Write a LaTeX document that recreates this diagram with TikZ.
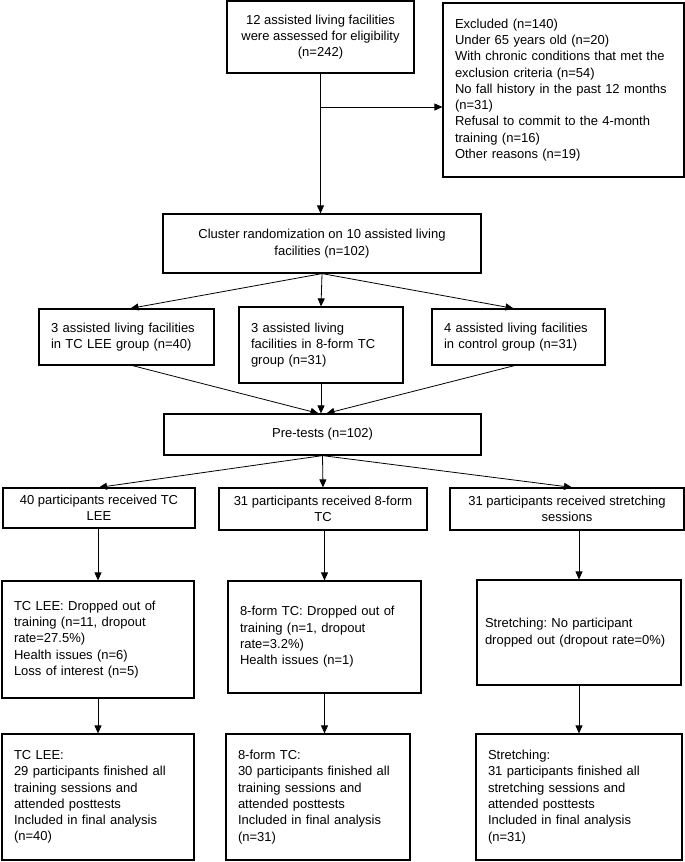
\documentclass[tikz,border=0pt]{standalone}
\usepackage{fontspec}
\setmainfont{Liberation Sans}
\usetikzlibrary{arrows.meta}
\tikzset{
  boxc/.style={draw, line width=1.2pt, align=center, inner sep=0pt,
    font=\fontsize{13pt}{16.3pt}\selectfont\frenchspacing},
  boxl/.style={draw, line width=1.2pt, align=left, inner ysep=0pt, inner xsep=12pt,
    font=\fontsize{13pt}{16.3pt}\selectfont\frenchspacing},
  conn/.style={line width=0.8pt, -{Triangle[length=8pt,width=7pt]}},
  plain/.style={line width=0.8pt}
}
\begin{document}
\begin{tikzpicture}[x=1pt,y=-1pt]
\useasboundingbox (0,0) rectangle (685,862);
% top
\node[boxc, minimum width=187pt, minimum height=72pt] (b1) at (320.5,37)
  {12 assisted living facilities\\were assessed for eligibility\\(n=242)};
\node[boxl, minimum width=241pt, minimum height=174pt, text width=217pt] (ex) at (563.5,90)
  {Excluded (n=140)\\Under 65 years old (n=20)\\With chronic conditions that met the\\exclusion criteria (n=54)\\No fall history in the past 12 months\\(n=31)\\Refusal to commit to the 4-month\\training (n=16)\\Other reasons (n=19)\\[8pt]};
\node[boxc, minimum width=318pt, minimum height=59pt] (cl) at (322,243.5)
  {Cluster randomization on 10 assisted living\\facilities (n=102)};
% groups
\node[boxl, minimum width=175pt, minimum height=56pt, text width=151pt] (ga) at (126.5,337)
  {3 assisted living facilities\\in TC LEE group (n=40)};
\node[boxl, minimum width=164pt, minimum height=76pt, text width=140pt] (gb) at (321,345)
  {3 assisted living\\facilities in 8-form TC\\group (n=31)};
\node[boxl, minimum width=173pt, minimum height=56pt, text width=149pt] (gc) at (518.5,337)
  {4 assisted living facilities\\in control group (n=31)};
\node[boxc, minimum width=317pt, minimum height=41pt] (pre) at (322.5,434.5)
  {Pre-tests (n=102)};
% row 1
\node[boxc, minimum width=192pt, minimum height=40pt] (l1) at (99,508)
  {40 participants received TC\\LEE};
\node[boxc, minimum width=208pt, minimum height=42pt] (m1) at (323,509)
  {31 participants received 8-form\\TC};
\node[boxc, minimum width=234pt, minimum height=42pt] (r1) at (567,509)
  {31 participants received stretching\\sessions};
% row 2
\node[boxl, minimum width=192pt, minimum height=117pt, text width=168pt] (l2) at (98,639.5)
  {TC LEE: Dropped out of\\training (n=11, dropout\\rate=27.5\%)\\Health issues (n=6)\\Loss of interest (n=5)};
\node[boxl, minimum width=193pt, minimum height=112pt, text width=169pt] (m2) at (324.5,637)
  {8-form TC: Dropped out of\\training (n=1, dropout\\rate=3.2\%)\\Health issues (n=1)};
\node[boxl, inner xsep=8pt, minimum width=204pt, minimum height=105pt, text width=188pt] (r2) at (579,632.5)
  {Stretching: No participant\\dropped out (dropout rate=0\%)};
% row 3
\node[boxl, minimum width=192pt, minimum height=126pt, text width=168pt] (l3) at (98,797)
  {TC LEE:\\29 participants finished all\\training sessions and\\attended posttests\\Included in final analysis\\(n=40)};
\node[boxl, minimum width=184pt, minimum height=126pt, text width=160pt] (m3) at (318,797)
  {8-form TC:\\30 participants finished all\\training sessions and\\attended posttests\\Included in final analysis\\(n=31)};
\node[boxl, minimum width=206pt, minimum height=126pt, text width=182pt] (r3) at (579,797)
  {Stretching:\\31 participants finished all\\stretching sessions and\\attended posttests\\Included in final analysis\\(n=31)};
% connectors
\draw[conn] (b1.south) -- (b1.south |- cl.north);
\coordinate (j) at (b1.south |- 0,107);
\draw[conn] (j) -- (j -| ex.west);
\draw[conn] (cl.south) -- ([xshift=4pt]ga.north);
\draw[conn] (cl.south) -- (gb.north);
\draw[conn] (cl.south) -- ([xshift=-5pt]gc.north);
\draw[conn] ([xshift=6pt]ga.south) -- ([xshift=-4pt]pre.north);
\draw[conn] (gb.south) -- (gb.south |- pre.north);
\draw[conn] ([xshift=-4pt]gc.south) -- ([xshift=4pt]pre.north);
\draw[conn] (pre.south) -- (l1.north);
\draw[conn] (pre.south) -- (m1.north);
\draw[conn] (pre.south) -- ([xshift=5pt]r1.north);
\draw[conn] (l2.north |- l1.south) -- (l2.north);
\draw[conn] (m2.north |- m1.south) -- (m2.north);
\draw[conn] (r2.north |- r1.south) -- (r2.north);
\draw[conn] (l2.south) -- (l2.south |- l3.north);
\draw[conn] (m2.south) -- (m2.south |- m3.north);
\draw[conn] (r2.south) -- (r2.south |- r3.north);
\end{tikzpicture}
\end{document}
